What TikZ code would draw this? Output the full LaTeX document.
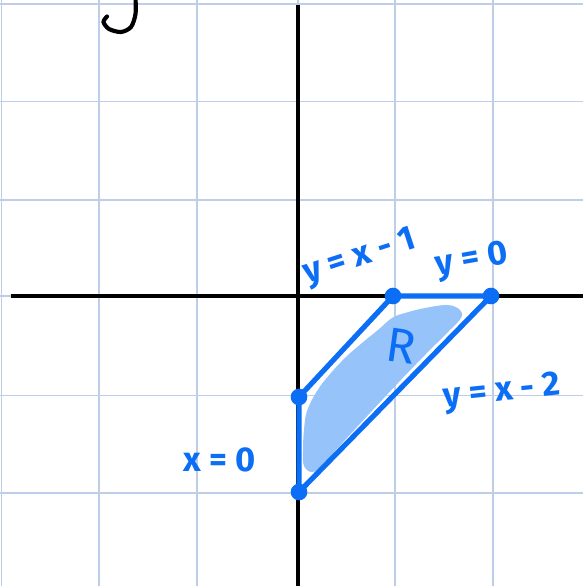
\documentclass[tikz,border=0pt]{standalone}
\usepackage{fontspec}
\setmainfont{Fira Sans}
\begin{document}
\begin{tikzpicture}[x=0.0102cm,y=-0.0102cm,
  gridline/.style={draw={rgb,255:red,190;green,206;blue,230},line width=0.45pt},
  axisline/.style={draw=black,line width=1.2pt},
  edge/.style={draw=penblue,line width=1.5pt,line join=round},
  dot/.style={circle,fill=penblue,inner sep=0pt,minimum size=0.17cm},
  lbl/.style={text=penblue,font=\fontsize{10}{12}\selectfont\bfseries,inner sep=0pt}]
\definecolor{penblue}{RGB}{12,110,245}
\definecolor{regionblue}{RGB}{150,195,250}
\useasboundingbox (0,0) rectangle (583,586);
\fill[white] (0,0) rectangle (583,586);
% grid
\foreach \gx in {1.5,99,197,298,395,493} \draw[gridline] (\gx,0) -- (\gx,586);
\foreach \gy in {4,101.5,200,296,395.5,493} \draw[gridline] (0,\gy) -- (583,\gy);
% axes
\coordinate (xl) at (11,296); \coordinate (xr) at (583,296);
\coordinate (yt) at (298,5); \coordinate (yb) at (298,586);
\draw[axisline] (xl) -- (xr);
\draw[axisline] (yt) -- (yb);
% hook at top
\draw[black,line width=1.2pt,line cap=round] plot[smooth] coordinates {(135.5,-2) (135.5,14) (131,27) (121,32) (109,29) (103.5,22) (107,16.5)};
% shaded region
\fill[regionblue] plot[smooth cycle,tension=0.6] coordinates {
  (460,310) (448,305) (425,308) (405,313) (392,318) (378,330) (362,343) (346,357) (330,374) (317,391) (307,411) (304,430) (303,450) (304,466) (313,472) (325,462) (345,440) (370,413) (398,383) (425,355) (448,332) (461,318)};
% vertices
\node[dot] (a) at (393,296) {};
\node[dot] (b) at (491,296) {};
\node[dot] (c) at (299,492) {};
\node[dot] (d) at (299,397) {};
\draw[edge] (a.center) -- (b.center) -- (c.center) -- (d.center) -- cycle;
% labels
\node[lbl,rotate=18] (l1) at (360,258) {y = x - 1};
\node[lbl,rotate=10] (l2) at (472,261) {y = 0};
\node[lbl,rotate=6] (l3) at (502,393) {y = x - 2};
\node[lbl] (l4) at (220,460) {x = 0};
\node[lbl,font=\fontsize{14}{16}\selectfont,rotate=-8] (l5) at (401,346) {R};
\end{tikzpicture}
\end{document}
